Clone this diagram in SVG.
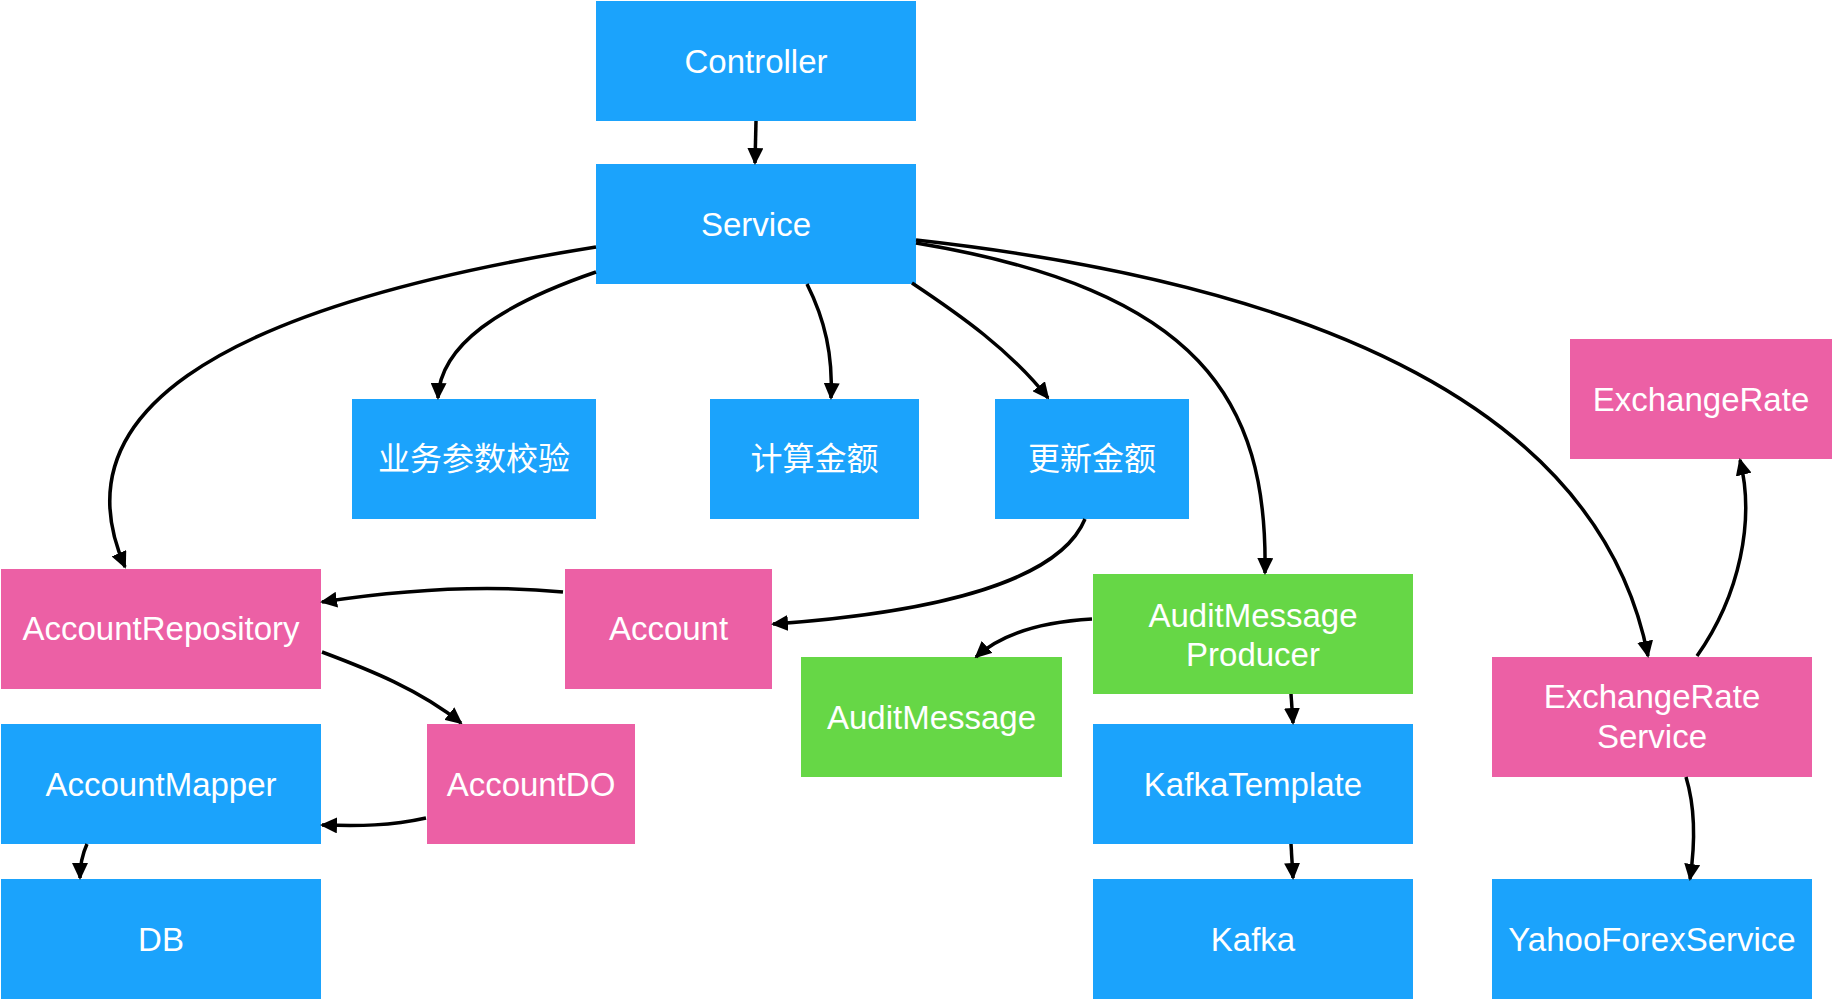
<svg xmlns="http://www.w3.org/2000/svg" width="1833" height="1000" viewBox="0 0 1833 1000">
<style>
.b{fill:#1BA3FC}.p{fill:#EC60A5}.g{fill:#66D746}
text{fill:#fff;font-family:"Liberation Sans","Noto Sans CJK SC",sans-serif;font-size:33px;text-anchor:middle}
.cjk{font-family:"Noto Sans CJK SC",sans-serif;font-size:32px}
.c path{fill:none;stroke:#000;stroke-width:3.5;marker-end:url(#ah)}
</style>
<defs>
<marker id="ah" markerUnits="userSpaceOnUse" markerWidth="17" markerHeight="16" refX="15" refY="8" orient="auto">
<path d="M0,0 L17,8 L0,16 z" fill="#000"/>
</marker>
</defs>
<rect width="1833" height="1000" fill="#fff"/>
<g id="controller"><rect class="b" x="596" y="1" width="320" height="120"/><text x="756" y="73">Controller</text></g>
<g id="service"><rect class="b" x="596" y="164" width="320" height="120"/><text x="756" y="236">Service</text></g>
<g id="validate"><rect class="b" x="352" y="399" width="244" height="120"/><text class="cjk" x="474" y="470">业务参数校验</text></g>
<g id="calc"><rect class="b" x="710" y="399" width="209" height="120"/><text class="cjk" x="814.5" y="470">计算金额</text></g>
<g id="update"><rect class="b" x="995" y="399" width="194" height="120"/><text class="cjk" x="1092" y="470">更新金额</text></g>
<g id="exchangeRate"><rect class="p" x="1570" y="339" width="262" height="120"/><text x="1701" y="411">ExchangeRate</text></g>
<g id="accountRepository"><rect class="p" x="1" y="569" width="320" height="120"/><text x="161" y="640">AccountRepository</text></g>
<g id="account"><rect class="p" x="565" y="569" width="207" height="120"/><text x="668.5" y="640">Account</text></g>
<g id="auditProducer"><rect class="g" x="1093" y="574" width="320" height="120"/><text x="1253" y="626.5">AuditMessage</text><text x="1253" y="665.5">Producer</text></g>
<g id="auditMessage"><rect class="g" x="801" y="657" width="261" height="120"/><text x="931.5" y="729">AuditMessage</text></g>
<g id="exchangeRateService"><rect class="p" x="1492" y="657" width="320" height="120"/><text x="1652" y="708">ExchangeRate</text><text x="1652" y="748">Service</text></g>
<g id="accountMapper"><rect class="b" x="1" y="724" width="320" height="120"/><text x="161" y="796">AccountMapper</text></g>
<g id="accountDO"><rect class="p" x="427" y="724" width="208" height="120"/><text x="531" y="796">AccountDO</text></g>
<g id="kafkaTemplate"><rect class="b" x="1093" y="724" width="320" height="120"/><text x="1253" y="796">KafkaTemplate</text></g>
<g id="db"><rect class="b" x="1" y="879" width="320" height="120"/><text x="161" y="951">DB</text></g>
<g id="kafka"><rect class="b" x="1093" y="879" width="320" height="120"/><text x="1253" y="951">Kafka</text></g>
<g id="yahoo"><rect class="b" x="1492" y="879" width="320" height="120"/><text x="1652" y="951">YahooForexService</text></g>
<g class="c" id="connectors">
<path d="M756,121 L755,163"/>
<path d="M596,247 C200,310 60,420 125,567"/>
<path d="M596,272 C500,305 440,345 438,398"/>
<path d="M807,284 C825,320 833,355 831,398"/>
<path d="M912,283 C960,315 1010,350 1048,398"/>
<path d="M916,243 C1200,290 1268,400 1265,573"/>
<path d="M916,240 C1320,285 1600,410 1648,656"/>
<path d="M1085,519 C1060,580 940,612 773,624"/>
<path d="M563,592 C480,584 400,590 322,602"/>
<path d="M322,652 C370,670 420,690 461,723"/>
<path d="M426,818 C390,826 360,826 322,825"/>
<path d="M87,844 C82,855 80,865 80,878"/>
<path d="M1092,619 C1040,622 1000,635 976,657"/>
<path d="M1291,694 L1293,723"/>
<path d="M1291,844 L1293,878"/>
<path d="M1697,656 C1740,595 1755,520 1740,460"/>
<path d="M1686,777 C1696,810 1695,845 1690,879"/>
</g>
</svg>
